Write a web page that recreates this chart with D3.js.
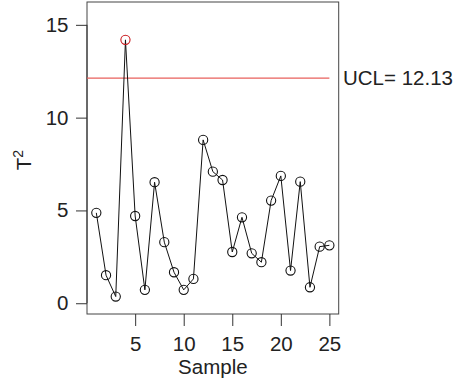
<!DOCTYPE html>
<html><head><meta charset="utf-8">
<script src="https://cdn.jsdelivr.net/npm/d3@7"></script>
<style>body{margin:0;background:#fff}svg{display:block}text{font-family:"Liberation Sans",Arial,Helvetica,sans-serif;fill:#222}</style>
</head><body>
<script>
const samples = d3.range(1, 26);
const t2 = [4.87, 1.51, 0.36, 14.19, 4.70, 0.72, 6.52, 3.29, 1.67, 0.72, 1.31, 8.80, 7.09, 6.64, 2.76, 4.63, 2.69, 2.21, 5.53, 6.86, 1.76, 6.55, 0.86, 3.05, 3.12];
const ucl = 12.13;
const xTicks = [5, 10, 15, 20, 25];
const yTicks = [0, 5, 10, 15];

const W = 464, H = 383;
const L = 87, R = 338.7, T = 2, B = 314;
const svg = d3.select("body").append("svg").attr("width", W).attr("height", H);
const x = d3.scaleLinear().domain([0.04, 25.96]).range([L, R]);
const y = d3.scaleLinear().domain([-0.58, 16.23]).range([B, T]);

svg.append("defs").append("clipPath").attr("id", "clip")
  .append("rect").attr("x", L).attr("y", T).attr("width", R - L).attr("height", B - T);

// box
svg.append("rect").attr("x", L).attr("y", T).attr("width", R - L).attr("height", B - T)
  .attr("fill", "none").attr("stroke", "#444").attr("stroke-width", 1);

// axes
const fs = "20.5px";
const ax = svg.append("g").attr("transform", `translate(0,${B})`)
  .call(d3.axisBottom(x).tickValues(xTicks).tickSize(12).tickPadding(10).tickFormat(d3.format("d")));
ax.select(".domain").remove();
ax.selectAll("line").attr("stroke", "#333");
ax.selectAll("text").style("font-size", fs).attr("fill", "#222");

const ay = svg.append("g").attr("transform", `translate(${L},0)`)
  .call(d3.axisLeft(y).tickValues(yTicks).tickSize(11).tickPadding(7.5).tickFormat(d3.format("d")));
ay.select(".domain").attr("d", `M0,${y(0)}V${y(15)}`).attr("stroke", "#333");
ay.selectAll("line").attr("stroke", "#333");
ay.selectAll("text").style("font-size", fs).attr("fill", "#222");

// axis titles
svg.append("text").attr("x", (L + R) / 2).attr("y", 373.5).attr("text-anchor", "middle")
  .style("font-size", fs).text("Sample");
const yl = svg.append("text").attr("transform", `translate(31,160) rotate(-90)`)
  .attr("text-anchor", "middle").style("font-size", fs);
yl.append("tspan").text("T");
yl.append("tspan").attr("dy", -8).style("font-size", "14px").text("2");

// UCL
const plot = svg.append("g").attr("clip-path", "url(#clip)");
plot.append("line").attr("x1", x(0)).attr("x2", x(25)).attr("y1", y(ucl)).attr("y2", y(ucl))
  .attr("stroke", "#e8605c").attr("stroke-width", 1.2);
svg.append("text").attr("x", 343).attr("y", 85).style("font-size", fs).text("UCL= " + ucl.toFixed(2));

// line + points
const data = samples.map((s, i) => ({s, v: t2[i]}));
plot.append("path").datum(data)
  .attr("d", d3.line().x(d => x(d.s)).y(d => y(d.v)))
  .attr("fill", "none").attr("stroke", "#111").attr("stroke-width", 1);
plot.selectAll("circle").data(data).join("circle")
  .attr("cx", d => x(d.s)).attr("cy", d => y(d.v)).attr("r", 4.6)
  .attr("fill", "none")
  .attr("stroke", d => d.v > ucl ? "#c8171c" : "#111").attr("stroke-width", 1.1);
</script>
</body></html>
